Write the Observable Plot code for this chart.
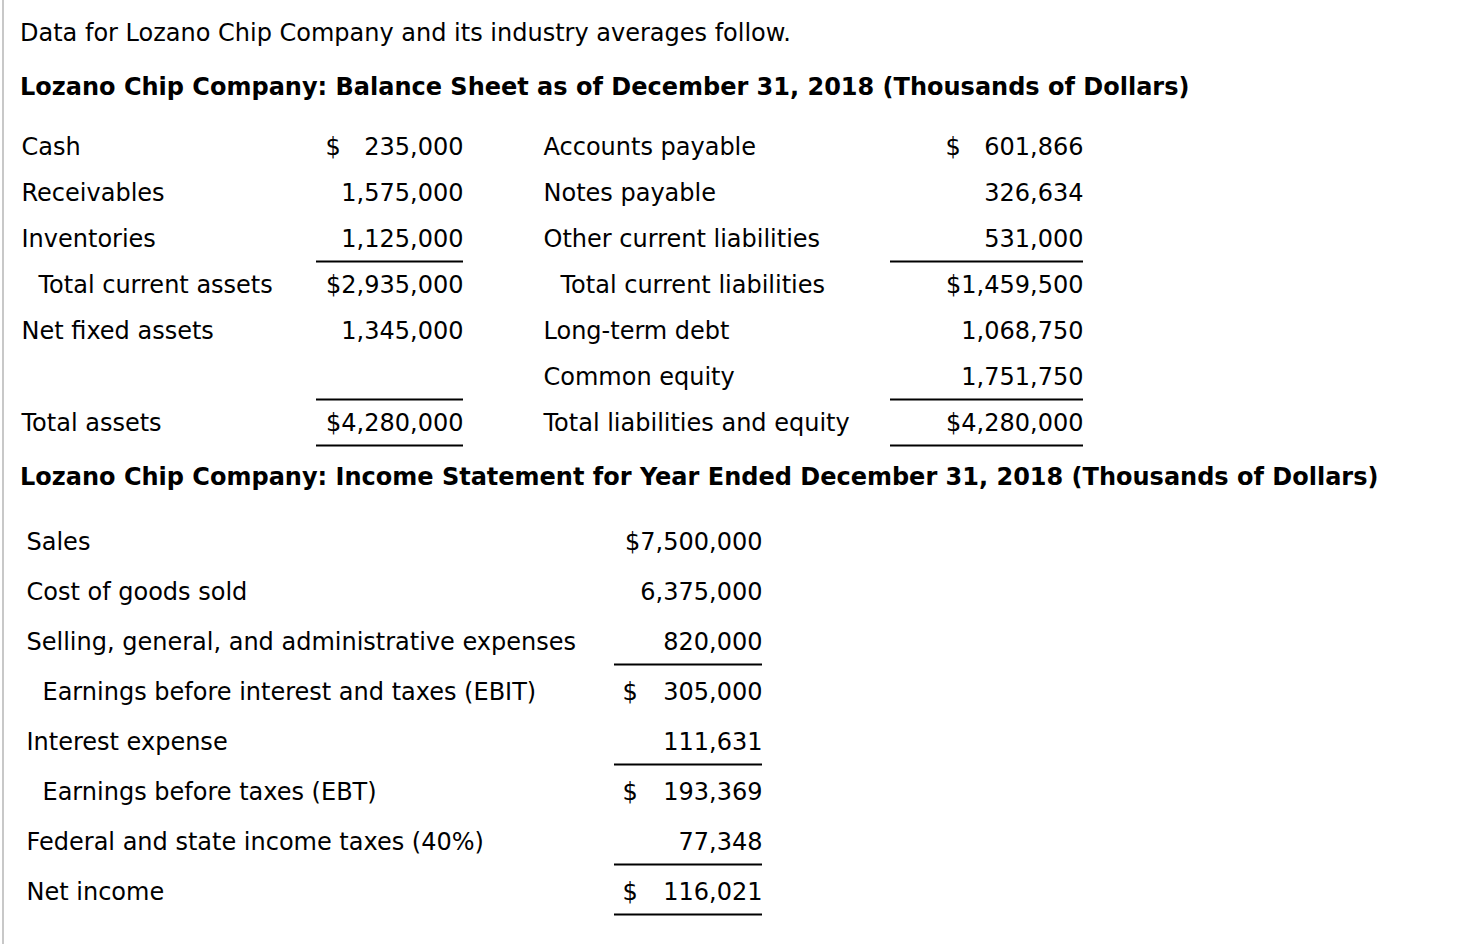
<!DOCTYPE html>
<html><head><meta charset="utf-8">
<script src="https://cdn.jsdelivr.net/npm/d3@7"></script>
<script src="https://cdn.jsdelivr.net/npm/@observablehq/plot@0.6"></script>
<style>
html,body{margin:0;padding:0;background:#fff;}
#page{position:relative;width:1460px;height:944px;overflow:hidden;font-family:"DejaVu Sans",Verdana,sans-serif;color:#000;background:#fff;}
#border{position:absolute;left:2px;top:0;width:2px;height:944px;background:#c8c8c8;}
.line{position:absolute;left:20px;font-size:24px;line-height:24px;white-space:nowrap;}
.bold{font-weight:bold;}
.chart{position:absolute;left:0;}
</style></head><body>
<div id="page">
<div id="border"></div>
<div class="line" id="intro" style="top:21px"></div>
<div class="line bold" id="h1" style="top:75px"></div>
<div class="chart" id="bs" style="top:110px"></div>
<div class="line bold" id="h2" style="top:465px"></div>
<div class="chart" id="is" style="top:500px"></div>
</div>
<script>
// ---------- text ----------
const introText = "Data for Lozano Chip Company and its industry averages follow.";
const balanceTitle = "Lozano Chip Company: Balance Sheet as of December 31, 2018 (Thousands of Dollars)";
const incomeTitle = "Lozano Chip Company: Income Statement for Year Ended December 31, 2018 (Thousands of Dollars)";

// ---------- balance sheet: assets ----------
const assetLabels = ["Cash", "Receivables", "Inventories", "Total current assets", "Net fixed assets", "", "Total assets"];
const assetValues = [235000, 1575000, 1125000, 2935000, 1345000, null, 4280000];
const assetDollar = ["separate", "", "", "attached", "", "", "attached"];
const assetIndent = [false, false, false, true, false, false, false];
const assetUnderline = [false, false, true, false, false, true, true];

// ---------- balance sheet: liabilities & equity ----------
const liabLabels = ["Accounts payable", "Notes payable", "Other current liabilities", "Total current liabilities", "Long-term debt", "Common equity", "Total liabilities and equity"];
const liabValues = [601866, 326634, 531000, 1459500, 1068750, 1751750, 4280000];
const liabDollar = ["separate", "", "", "attached", "", "", "attached"];
const liabIndent = [false, false, false, true, false, false, false];
const liabUnderline = [false, false, true, false, false, true, true];

// ---------- income statement ----------
const incomeLabels = ["Sales", "Cost of goods sold", "Selling, general, and administrative expenses", "Earnings before interest and taxes (EBIT)", "Interest expense", "Earnings before taxes (EBT)", "Federal and state income taxes (40%)", "Net income"];
const incomeValues = [7500000, 6375000, 820000, 305000, 111631, 193369, 77348, 116021];
const incomeDollar = ["attached", "", "", "separate", "", "separate", "", "separate"];
const incomeIndent = [false, false, false, true, false, true, false, false];
const incomeUnderline = [false, false, true, false, true, false, true, true];

// ---------- layout ----------
const FONT = "DejaVu Sans, Verdana, sans-serif";
const bsLayout = {width: 1460, height: 340, yRange: [35, 315], ruleDy: 22,
  groups: [
    {label: 21, labelIndent: 38, dollar: 325, value: 463, ruleFrom: 316},
    {label: 543, labelIndent: 560, dollar: 945, value: 1083, ruleFrom: 890}
  ]};
const isLayout = {width: 1460, height: 430, yRange: [39, 395], ruleDy: 22,
  groups: [
    {label: 26, labelIndent: 42, dollar: 622, value: 762, ruleFrom: 614}
  ]};

document.getElementById("intro").textContent = introText;
document.getElementById("h1").textContent = balanceTitle;
document.getElementById("h2").textContent = incomeTitle;

const fmt = d3.format(",");

function buildGroup(labels, values, dollar, indent, underline, g) {
  const texts = [], rules = [];
  labels.forEach((lab, i) => {
    if (lab) texts.push({row: i, x: indent[i] ? g.labelIndent : g.label, text: lab, anchor: "start"});
    const v = values[i];
    if (v != null) {
      texts.push({row: i, x: g.value, text: (dollar[i] === "attached" ? "$" : "") + fmt(v), anchor: "end"});
      if (dollar[i] === "separate") texts.push({row: i, x: g.dollar, text: "$", anchor: "start"});
    }
    if (underline[i]) rules.push({row: i, x1: g.ruleFrom, x2: g.value});
  });
  return {texts, rules};
}

function table(groups, layout, nRows) {
  const texts = groups.flatMap(g => g.texts);
  const rules = groups.flatMap(g => g.rules);
  return Plot.plot({
    width: layout.width,
    height: layout.height,
    margin: 0,
    style: {fontFamily: FONT, fontSize: "24px", color: "#000", background: "transparent", overflow: "visible"},
    x: {type: "linear", domain: [0, layout.width], range: [0, layout.width], axis: null},
    y: {type: "point", domain: d3.range(nRows), range: layout.yRange, padding: 0, axis: null},
    marks: [
      Plot.ruleY(rules, {y: "row", x1: "x1", x2: "x2", dy: layout.ruleDy, stroke: "#000", strokeWidth: 2}),
      Plot.text(texts.filter(d => d.anchor === "start"), {x: "x", y: "row", text: "text", textAnchor: "start", fontSize: 24, fill: "#000"}),
      Plot.text(texts.filter(d => d.anchor === "end"), {x: "x", y: "row", text: "text", textAnchor: "end", fontSize: 24, fill: "#000"})
    ]
  });
}

const bsGroups = [
  buildGroup(assetLabels, assetValues, assetDollar, assetIndent, assetUnderline, bsLayout.groups[0]),
  buildGroup(liabLabels, liabValues, liabDollar, liabIndent, liabUnderline, bsLayout.groups[1])
];
document.getElementById("bs").appendChild(table(bsGroups, bsLayout, assetLabels.length));

const isGroups = [
  buildGroup(incomeLabels, incomeValues, incomeDollar, incomeIndent, incomeUnderline, isLayout.groups[0])
];
document.getElementById("is").appendChild(table(isGroups, isLayout, incomeLabels.length));
</script>
</body></html>
